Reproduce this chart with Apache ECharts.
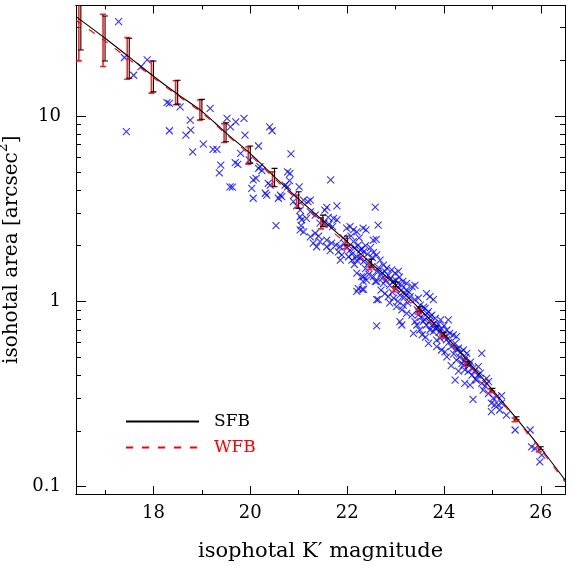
<!DOCTYPE html>
<html><head><meta charset="utf-8">
<script src="https://cdn.jsdelivr.net/npm/echarts@6/dist/echarts.min.js"></script>
<style>html,body{margin:0;padding:0;background:#fff}#c{width:574px;height:566px}</style>
</head><body><div id="c"></div>
<script>
// ---- axis ticks / labels ----
const xMajorTicks = [18, 20, 22, 24, 26];
const xMinorTicks = [17, 19, 21, 23, 25];
const yMajorTicks = [0.1, 1, 10];
const yMinorTicks = [0.2,0.3,0.4,0.5,0.6,0.7,0.8,0.9,2,3,4,5,6,7,8,9,20,30];
const yTickLabels = ['0.1', '1', '10'];

// ---- model curves ----
const curveMag = [16.4,17,17.5,18,18.5,19,19.5,20,20.5,21,21.5,22,22.5,23,23.5,24,24.5,25,25.5,26,26.5];
const sfbArea = [34.4,26.3,20.8,16.4,13.1,10.6,8.09,6.27,4.70,3.56,2.73,2.10,1.60,1.225,0.908,0.667,0.473,0.333,0.233,0.161,0.1086];
const wfbArea = [32.9,25.4,20.2,16.1,12.9,10.4,7.98,6.15,4.59,3.47,2.63,2.03,1.54,1.164,0.879,0.646,0.457,0.327,0.229,0.158,0.106];

// ---- error bars ----
const binMag = [16.5,17,17.5,18,18.5,19,19.5,20,20.5,21,21.5,22,22.5,23,23.5,24,24.5,25,25.5,26];
const sfbLow  = [22.7,19.8,16.0,13.5,11.6,9.6,7.27,5.56,4.15,3.18,2.53,2.01,1.53,1.199,0.879,0.650,0.453,0.328,0.229,0.158];
const sfbHigh = [45,34.7,26.3,19.8,15.6,12.3,9.2,6.89,5.22,3.90,2.92,2.25,1.69,1.276,0.935,0.677,0.472,0.339,0.238,0.164];
const wfbLow  = [19.8,18.5,15.8,13.3,11.5,9.5,7.2,5.5,4.19,3.19,2.46,1.92,1.48,1.127,0.854,0.634,0.447,0.321,0.224,0.154];
const wfbHigh = [50,35.4,26.5,19.8,15.5,12.2,9.1,6.8,5.0,3.75,2.82,2.19,1.61,1.199,0.909,0.658,0.466,0.336,0.2345,0.1616];

// ---- galaxies ----
const galMag = [17.28,17.44,17.40,17.59,17.87,17.74,18.28,18.33,18.55,18.33,18.76,18.77,18.67,18.81,19.03,19.17,19.23,19.31,19.39,19.36,19.52,19.59,19.70,19.87,19.89,19.80,19.69,19.74,20.17,20.17,20.24,20.12,20.40,
20.45,19.98,20.20,20.06,20.03,20.06,19.58,19.63,20.37,20.31,20.34,20.41,20.62,20.65,20.58,20.77,20.82,20.84,20.81,20.72,20.77,21.01,20.90,21.10,21.19,21.24,20.89,20.96,21.03,21.03,21.06,21.16,21.24,21.34,21.05,20.53,21.58,21.54,21.79,21.66,21.44,21.52,21.61,21.72,21.79,21.63,21.70,21.03,21.10,21.24,21.34,21.41,21.30,21.44,21.37,21.58,21.68,21.58,21.65,21.77,21.85,21.82,21.89,21.99,22.06,22.13,22.20,22.33,22.39,22.54,22.60,22.13,22.23,22.27,22.06,22.03,22.20,22.27,22.34,22.20,22.34,22.23,22.34,22.44,22.51,22.61,22.54,22.58,22.61,22.58,22.64,
21.86,22.10,22.20,22.34,22.54,22.61,22.68,22.75,22.82,22.92,22.99,23.06,22.30,22.33,22.40,22.20,22.31,22.61,22.75,22.64,22.85,22.96,22.61,23.02,23.13,23.23,23.34,23.40,23.09,23.19,23.30,23.40,23.47,23.02,23.13,23.23,23.34,23.09,23.13,23.40,23.44,23.37,23.51,23.61,23.68,23.75,23.82,23.93,23.64,23.71,23.78,23.57,23.64,23.71,23.78,23.85,23.68,23.85,23.92,24.02,24.09,24.06,24.12,24.19,24.26,23.85,23.95,24.02,24.06,24.23,24.30,24.40,24.47,24.26,24.37,24.40,24.47,24.23,24.43,24.50,24.60,24.71,24.78,24.43,24.54,24.60,24.67,24.78,24.88,24.92,24.81,24.92,25.02,25.09,25.19,24.98,25.05,25.12,25.19,24.98,25.15,25.29,25.47,25.78,25.81,25.88,26.02,25.98,
22.65,22.70,22.72,22.78,22.80,22.85,22.88,22.90,22.95,23.00,23.05,23.08,23.12,23.15,23.18,23.22,23.25,23.28,22.70,22.78,22.88,22.93,23.05,23.16,
23.45,23.48,23.52,23.55,23.58,23.60,23.65,23.70,23.72,23.75,23.80,23.83,23.88,23.90,23.95,23.98,24.00,24.05,24.10,23.50,23.55,23.62,
24.15,24.20,24.25,24.32,24.35,24.42,24.45,24.52,24.55,24.58,24.63,24.65,24.70,24.75,24.85,24.15,24.30,
21.92,21.95,22.00,22.08,22.10,22.16,22.25,22.30,22.38,22.42,22.48,22.52,22.45,22.38,22.15];
const galArea = [32.3,8.23,20.7,16.6,20.1,18.5,11.8,11.7,11.2,8.33,9.51,8.40,7.89,6.41,7.06,11.0,6.61,6.61,5.44,4.94,9.72,8.75,9.31,9.72,7.89,6.29,5.60,5.49,6.89,5.22,5.07,4.61,8.75,
8.33,5.79,5.33,4.52,4.07,3.60,4.15,4.13,4.33,3.83,3.74,4.24,3.74,3.67,3.60,5.0,4.9,6.24,4.48,4.24,4.15,4.15,3.74,3.52,3.45,3.52,3.45,3.27,3.11,2.86,2.75,2.80,3.04,2.92,2.56,2.56,3.21,3.11,3.27,4.52,2.64,2.64,2.84,2.80,2.75,2.61,2.53,2.43,2.37,2.23,2.33,2.25,2.06,2.10,1.97,2.14,2.06,1.97,1.88,2.01,1.97,1.85,1.78,2.48,2.53,2.43,2.37,2.48,2.43,2.14,2.16,2.10,2.01,1.89,1.89,1.74,1.67,1.71,1.64,1.42,1.36,1.17,1.16,1.60,1.54,1.45,1.36,1.28,1.02,3.22,2.58,
1.67,1.67,1.74,1.85,1.83,1.78,1.67,1.57,1.51,1.48,1.42,1.45,1.36,1.28,1.30,1.13,1.16,1.28,1.25,1.02,1.06,1.04,0.736,1.17,1.22,1.25,1.20,1.22,1.08,1.10,1.06,1.02,1.04,0.935,0.898,0.861,0.843,0.776,0.745,0.776,0.745,0.672,0.955,0.917,0.879,0.843,0.810,0.793,1.10,1.06,1.02,0.776,0.745,0.700,0.686,0.715,0.593,0.618,0.631,0.644,0.793,0.700,0.672,0.658,0.644,0.569,0.546,0.534,0.502,0.593,0.558,0.546,0.524,0.482,0.463,0.453,0.463,0.376,0.426,0.417,0.435,0.444,0.524,0.361,0.353,0.296,0.376,0.361,0.384,0.369,0.332,0.318,0.30,0.306,0.31,0.282,0.276,0.276,0.282,0.254,0.259,0.243,0.202,0.202,0.164,0.161,0.148,0.136,
1.52,1.40,1.33,1.45,1.30,1.38,1.22,1.33,1.28,1.30,1.25,1.35,1.15,1.28,1.05,1.15,0.98,1.12,1.15,1.10,0.98,1.12,1.00,0.95,
0.90,0.85,0.82,0.88,0.93,0.80,0.86,0.78,0.83,0.74,0.76,0.72,0.75,0.68,0.71,0.66,0.74,0.62,0.60,0.70,0.66,0.64,
0.57,0.52,0.55,0.50,0.53,0.48,0.50,0.45,0.47,0.40,0.42,0.38,0.40,0.41,0.35,0.45,0.42,
2.20,2.05,1.95,2.25,1.80,1.95,2.20,1.92,2.00,1.80,1.95,1.72,1.40,1.50,1.58];

const FONT = 'DejaVu Serif';
const chart = echarts.init(document.getElementById('c'), null, {renderer: 'canvas'});

function mkX(pos, ticks, len, labels, extra) {
  return Object.assign({
    type: 'value', position: pos, min: 16.4, max: 26.5, gridIndex: 0,
    axisLine: {show: true, onZero: false, lineStyle: {color: '#000', width: 1}},
    axisTick: {show: true, inside: true, length: len, customValues: ticks, lineStyle: {color: '#000', width: 1}},
    axisLabel: labels ? {show: true, customValues: labels, margin: 10, color: '#000', fontFamily: FONT, fontSize: 18,
      formatter: v => String(Math.round(v))} : {show: false},
    splitLine: {show: false}, minorTick: {show: false}
  }, extra || {});
}
function mkY(pos, ticks, len, labels, extra) {
  return Object.assign({
    type: 'log', logBase: 10, position: pos, min: 0.0912, max: 39.5, gridIndex: 0,
    axisLine: {show: true, onZero: false, lineStyle: {color: '#000', width: 1}},
    axisTick: {show: true, inside: true, length: len, customValues: ticks, lineStyle: {color: '#000', width: 1}},
    axisLabel: labels ? {show: true, customValues: labels, margin: 15, color: '#000', fontFamily: FONT, fontSize: 18,
      formatter: v => yTickLabels[yMajorTicks.findIndex(t => Math.abs(Math.log10(t) - Math.log10(v)) < 1e-6)] || ''} : {show: false},
    splitLine: {show: false}, minorTick: {show: false}
  }, extra || {});
}

function errBar(color, lw, dx) {
  return function (params, api) {
    const m = api.value(0), lo = api.value(1), hi = api.value(2);
    const a = api.coord([m, lo]), b = api.coord([m, hi]);
    const x = a[0] + dx, cw = 3;
    const st = {stroke: color, lineWidth: lw};
    return {type: 'group', children: [
      {type: 'line', shape: {x1: x, y1: a[1], x2: x, y2: b[1]}, style: st},
      {type: 'line', shape: {x1: x - cw, y1: a[1], x2: x + cw, y2: a[1]}, style: st},
      {type: 'line', shape: {x1: x - cw, y1: b[1], x2: x + cw, y2: b[1]}, style: st}
    ]};
  };
}

const option = {
  animation: false,
  backgroundColor: '#fff',
  grid: {left: 76, right: 9, top: 5.5, bottom: 72, containLabel: false, outerBoundsMode: 'none'},
  xAxis: [
    mkX('bottom', xMajorTicks, 8, xMajorTicks, {name: 'isophotal K\u2032 magnitude', nameLocation: 'middle', nameGap: 47,
      nameTextStyle: {color: '#000', fontFamily: FONT, fontSize: 21}}),
    mkX('bottom', xMinorTicks, 4, null),
    mkX('top', xMajorTicks, 8, null),
    mkX('top', xMinorTicks, 4, null)
  ],
  yAxis: [
    mkY('left', yMajorTicks, 10, yMajorTicks, {name: 'isohotal area [arcsec{sup|2}]', nameLocation: 'middle', nameGap: 35,
      nameTextStyle: {color: '#000', fontFamily: FONT, fontSize: 20,
        rich: {sup: {fontFamily: FONT, fontSize: 14, color: '#000', padding: [0, 0, 16, 0]}}}}),
    mkY('left', yMinorTicks, 5, null),
    mkY('right', yMajorTicks, 10, null),
    mkY('right', yMinorTicks, 5, null)
  ],
  legend: {
    orient: 'vertical', left: 120, top: 408,
    itemWidth: 73, itemHeight: 14, itemGap: 9,
    itemStyle: {opacity: 0},
    textStyle: {fontFamily: FONT, fontSize: 17, color: '#000', padding: [0, 0, 0, 10]},
    selectedMode: false,
    data: [
      {name: 'SFB', textStyle: {color: '#000'}},
      {name: 'WFB', textStyle: {color: '#ff0000'}}
    ]
  },
  series: [
    {type: 'scatter', name: 'galaxies', xAxisIndex: 0, yAxisIndex: 0,
      data: galMag.map((m, i) => [m, galArea[i]]),
      symbol: 'path://M0,0L10,10M10,0L0,10', symbolSize: 7,
      itemStyle: {color: 'rgba(0,0,0,0)', borderColor: '#0000ff', borderWidth: 1.1}, z: 2, silent: true},
    {type: 'custom', name: 'wfbErr', xAxisIndex: 0, yAxisIndex: 0, clip: true,
      data: binMag.map((m, i) => [m, wfbLow[i], wfbHigh[i]]),
      renderItem: errBar('#ff2020', 1.6, -2), z: 3, silent: true},
    {type: 'custom', name: 'sfbErr', xAxisIndex: 0, yAxisIndex: 0, clip: true,
      data: binMag.map((m, i) => [m, sfbLow[i], sfbHigh[i]]),
      renderItem: errBar('#000', 1.1, 0), z: 4, silent: true},
    {type: 'line', name: 'SFB', xAxisIndex: 0, yAxisIndex: 0, data: curveMag.map((m, i) => [m, sfbArea[i]]),
      symbol: 'none', smooth: 0.3, lineStyle: {color: '#000', width: 1.1}, itemStyle: {color: '#000'}, z: 5, silent: true},
    {type: 'line', name: 'WFB', xAxisIndex: 0, yAxisIndex: 0, data: curveMag.map((m, i) => [m, wfbArea[i]]),
      symbol: 'none', smooth: 0.3, lineStyle: {color: '#ff0000', width: 1.1, type: [7, 9]}, itemStyle: {color: '#ff0000'}, z: 5, silent: true}
  ]
};
chart.setOption(option);
</script>
</body></html>
